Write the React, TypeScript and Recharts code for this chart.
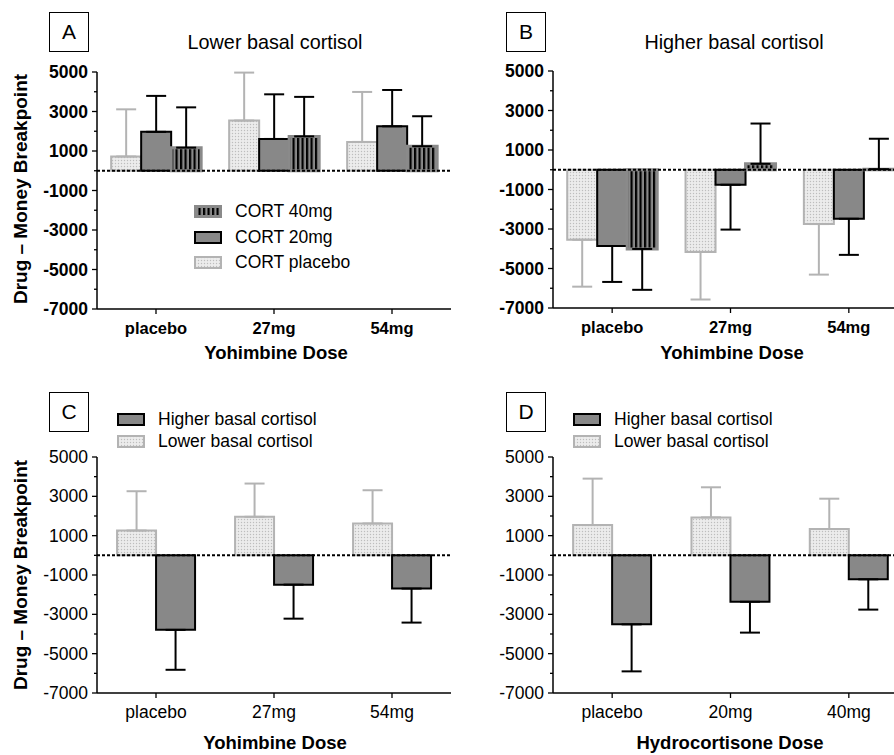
import { Bar, BarChart, ErrorBar, Legend, ReferenceLine, XAxis, YAxis } from "recharts";

const FONT = "'Liberation Sans', Arial, Helvetica, sans-serif";

const yohimbineDoses = ["placebo", "27mg", "54mg"];
const hydrocortisoneDoses = ["placebo", "20mg", "40mg"];

const yTicks = [5000, 4000, 3000, 2000, 1000, 0, -1000, -2000, -3000, -4000, -5000, -6000, -7000];
const yTickLabels = [5000, 3000, 1000, -1000, -3000, -5000, -7000];

// A: lower basal cortisol, by CORT dose
const lowerCortPlacebo = [720, 2540, 1460];
const lowerCortPlaceboErr = [2390, 2430, 2530];
const lowerCort20 = [1970, 1610, 2250];
const lowerCort20Err = [1820, 2260, 1840];
const lowerCort40 = [1170, 1740, 1240];
const lowerCort40Err = [2040, 2000, 1520];

// B: higher basal cortisol, by CORT dose
const higherCortPlacebo = [-3540, -4160, -2750];
const higherCortPlaceboErr = [2380, 2410, 2560];
const higherCort20 = [-3860, -760, -2480];
const higherCort20Err = [1820, 2270, 1830];
const higherCort40 = [-4010, 300, 30];
const higherCort40Err = [2070, 2040, 1540];

// C: by yohimbine dose
const yohLower = [1260, 1960, 1620];
const yohLowerErr = [2000, 1690, 1690];
const yohHigher = [-3790, -1490, -1690];
const yohHigherErr = [2030, 1730, 1730];

// D: by hydrocortisone dose
const hcLower = [1540, 1930, 1340];
const hcLowerErr = [2360, 1530, 1540];
const hcHigher = [-3510, -2360, -1220];
const hcHigherErr = [2390, 1570, 1540];

type Look = { fill: string; stroke: string; strokeWidth: number; errColor: string };

const dotted: Look = { fill: "url(#dotFill)", stroke: "#b3b3b3", strokeWidth: 2, errColor: "#b3b3b3" };
const solid: Look = { fill: "#888888", stroke: "#000", strokeWidth: 2, errColor: "#000" };
const striped: Look = { fill: "url(#stripeFill)", stroke: "#8a8a8a", strokeWidth: 3, errColor: "#000" };

type Series = { key: string; name: string; values: number[]; errors: number[]; look: Look };

function buildRows(cats: string[], series: Series[]) {
  return cats.map((dose, i) => {
    const row: Record<string, any> = { dose };
    series.forEach((s) => {
      const v = s.values[i];
      const e = s.errors[i];
      row[s.key] = v;
      // one-sided error bars, pointing away from zero
      row[s.key + "Err"] = v >= 0 ? [0, e] : [e, 0];
    });
    return row;
  });
}

function YTick({ x, y, payload, bold }: any) {
  const labelled = yTickLabels.includes(payload.value);
  return (
    <g>
      <line x1={x - (labelled ? 5 : 3)} x2={x} y1={y} y2={y} stroke="#000" strokeWidth={1.3} />
      {labelled && (
        <text
          x={x - 9}
          y={y}
          dy="0.35em"
          textAnchor="end"
          fontSize={17.5}
          fontWeight={bold ? 700 : 400}
          fill="#000"
        >
          {payload.value}
        </text>
      )}
    </g>
  );
}

function SwatchLegend({ items, rowHeight }: { items: Series[]; rowHeight: number }) {
  return (
    <div style={{ fontFamily: FONT }}>
      {items.map((s) => {
        const sw = s.look.strokeWidth;
        return (
          <div key={s.key} style={{ display: "flex", alignItems: "center", height: rowHeight }}>
            <svg width={28} height={13} style={{ display: "block", marginRight: 13 }}>
              <rect
                x={sw / 2}
                y={sw / 2}
                width={28 - sw}
                height={13 - sw}
                fill={s.look.fill}
                stroke={s.look.stroke}
                strokeWidth={sw}
              />
            </svg>
            <span style={{ fontSize: 17.5, color: "#000", whiteSpace: "nowrap" }}>{s.name}</span>
          </div>
        );
      })}
    </div>
  );
}

type PanelProps = {
  left: number;
  top: number;
  margin: { top: number; right: number; bottom: number; left: number };
  yAxisWidth: number;
  categories: string[];
  series: Series[];
  bold: boolean;
  categoryGap: string;
  xFontSize: number;
  legendItems?: Series[];
  legendAt?: { left: number; top: number };
  legendRow?: number;
};

function Panel(p: PanelProps) {
  const rows = buildRows(p.categories, p.series);
  return (
    <div style={{ position: "absolute", left: p.left, top: p.top }}>
      <BarChart
        width={470}
        height={380}
        data={rows}
        margin={p.margin}
        barGap={0}
        barCategoryGap={p.categoryGap}
      >
        <XAxis
          dataKey="dose"
          height={30}
          tickSize={5}
          tickMargin={8}
          axisLine={{ stroke: "#000", strokeWidth: 1.5 }}
          tickLine={{ stroke: "#000", strokeWidth: 1.3 }}
          tick={{ fill: "#000", fontSize: p.xFontSize, fontWeight: p.bold ? 700 : 400 }}
        />
        <YAxis
          width={p.yAxisWidth}
          domain={[-7000, 5000]}
          allowDataOverflow
          ticks={yTicks}
          interval={0}
          tickSize={0}
          tickMargin={0}
          tickLine={false}
          axisLine={{ stroke: "#000", strokeWidth: 1.5 }}
          tick={(props: any) => <YTick {...props} bold={p.bold} />}
        />
        {p.series.map((s) => (
          <Bar
            key={s.key}
            dataKey={s.key}
            name={s.name}
            fill={s.look.fill}
            stroke={s.look.stroke}
            strokeWidth={s.look.strokeWidth}
            isAnimationActive={false}
          >
            <ErrorBar
              dataKey={s.key + "Err"}
              direction="y"
              width={10}
              stroke={s.look.errColor}
              strokeWidth={2}
              isAnimationActive={false}
            />
          </Bar>
        ))}
        <ReferenceLine y={0} stroke="#000" strokeWidth={2} strokeDasharray="3 2" />
        {p.legendItems && p.legendAt && (
          <Legend
            layout="vertical"
            align="center"
            verticalAlign="middle"
            wrapperStyle={{ left: p.legendAt.left, top: p.legendAt.top, width: "auto" }}
            content={() => <SwatchLegend items={p.legendItems!} rowHeight={p.legendRow ?? 25} />}
          />
        )}
      </BarChart>
    </div>
  );
}

function Letter({ left, top, children }: { left: number; top: number; children: string }) {
  return (
    <div
      style={{
        position: "absolute",
        left,
        top,
        width: 38,
        height: 38,
        border: "1px solid #000",
        background: "#fff",
        fontSize: 21,
        lineHeight: "38px",
        textAlign: "center",
      }}
    >
      {children}
    </div>
  );
}

function Caption({
  cx,
  cy,
  size,
  bold,
  rotate,
  children,
}: {
  cx: number;
  cy: number;
  size: number;
  bold?: boolean;
  rotate?: boolean;
  children: string;
}) {
  return (
    <div
      style={{
        position: "absolute",
        left: cx,
        top: cy,
        transform: `translate(-50%, -50%)${rotate ? " rotate(-90deg)" : ""}`,
        fontSize: size,
        fontWeight: bold ? 700 : 400,
        whiteSpace: "nowrap",
        lineHeight: 1,
      }}
    >
      {children}
    </div>
  );
}

const panelA: Series[] = [
  { key: "cortPlacebo", name: "CORT placebo", values: lowerCortPlacebo, errors: lowerCortPlaceboErr, look: dotted },
  { key: "cort20", name: "CORT 20mg", values: lowerCort20, errors: lowerCort20Err, look: solid },
  { key: "cort40", name: "CORT 40mg", values: lowerCort40, errors: lowerCort40Err, look: striped },
];

const panelB: Series[] = [
  { key: "cortPlacebo", name: "CORT placebo", values: higherCortPlacebo, errors: higherCortPlaceboErr, look: dotted },
  { key: "cort20", name: "CORT 20mg", values: higherCort20, errors: higherCort20Err, look: solid },
  { key: "cort40", name: "CORT 40mg", values: higherCort40, errors: higherCort40Err, look: striped },
];

const panelC: Series[] = [
  { key: "lower", name: "Lower basal cortisol", values: yohLower, errors: yohLowerErr, look: dotted },
  { key: "higher", name: "Higher basal cortisol", values: yohHigher, errors: yohHigherErr, look: solid },
];

const panelD: Series[] = [
  { key: "lower", name: "Lower basal cortisol", values: hcLower, errors: hcLowerErr, look: dotted },
  { key: "higher", name: "Higher basal cortisol", values: hcHigher, errors: hcHigherErr, look: solid },
];

export default function App() {
  return (
    <div
      style={{
        position: "absolute",
        left: 0,
        top: 0,
        width: 894,
        height: 755,
        overflow: "hidden",
        background: "#fff",
        fontFamily: FONT,
        color: "#000",
      }}
    >
      <svg width={0} height={0} style={{ position: "absolute" }}>
        <defs>
          <pattern id="dotFill" patternUnits="userSpaceOnUse" width={3} height={3}>
            <rect width={3} height={3} fill="#ececec" />
            <circle cx={1.5} cy={1.5} r={0.7} fill="#bdbdbd" />
          </pattern>
          <pattern id="stripeFill" patternUnits="userSpaceOnUse" width={4.5} height={10}>
            <rect width={4.5} height={10} fill="#8a8a8a" />
            <rect width={2.2} height={10} fill="#000" />
          </pattern>
        </defs>
      </svg>

      <Panel
        left={0}
        top={0}
        margin={{ top: 72, right: 19, bottom: 41, left: 0 }}
        yAxisWidth={97}
        categories={yohimbineDoses}
        series={panelA}
        bold
        categoryGap="12%"
        xFontSize={16.5}
        legendItems={[panelA[2], panelA[1], panelA[0]]}
        legendAt={{ left: 194, top: 199 }}
        legendRow={25.5}
      />
      <Panel
        left={455}
        top={0}
        margin={{ top: 71, right: 17, bottom: 42, left: 0 }}
        yAxisWidth={98}
        categories={yohimbineDoses}
        series={panelB}
        bold
        categoryGap="12%"
        xFontSize={16.5}
      />
      <Panel
        left={0}
        top={380}
        margin={{ top: 77, right: 19, bottom: 37, left: 0 }}
        yAxisWidth={97}
        categories={yohimbineDoses}
        series={panelC}
        bold={false}
        categoryGap="17%"
        xFontSize={17.5}
        legendItems={[panelC[1], panelC[0]]}
        legendAt={{ left: 117, top: 28 }}
        legendRow={22}
      />
      <Panel
        left={455}
        top={380}
        margin={{ top: 77, right: 17, bottom: 37, left: 0 }}
        yAxisWidth={98}
        categories={hydrocortisoneDoses}
        series={panelD}
        bold={false}
        categoryGap="17%"
        xFontSize={17.5}
        legendItems={[panelD[1], panelD[0]]}
        legendAt={{ left: 118, top: 28 }}
        legendRow={22}
      />

      <Letter left={49} top={12}>A</Letter>
      <Letter left={506} top={12}>B</Letter>
      <Letter left={49} top={392}>C</Letter>
      <Letter left={506} top={392}>D</Letter>

      <Caption cx={275} cy={43} size={19.8}>Lower basal cortisol</Caption>
      <Caption cx={734} cy={43} size={19.8}>Higher basal cortisol</Caption>

      <Caption cx={20} cy={189} size={19} bold rotate>Drug – Money Breakpoint</Caption>
      <Caption cx={20} cy={575} size={19} bold rotate>Drug – Money Breakpoint</Caption>

      <Caption cx={276} cy={353} size={18.5} bold>Yohimbine Dose</Caption>
      <Caption cx={732} cy={353} size={18.5} bold>Yohimbine Dose</Caption>
      <Caption cx={275} cy={743} size={18.5} bold>Yohimbine Dose</Caption>
      <Caption cx={730} cy={743} size={18.5} bold>Hydrocortisone Dose</Caption>
    </div>
  );
}
